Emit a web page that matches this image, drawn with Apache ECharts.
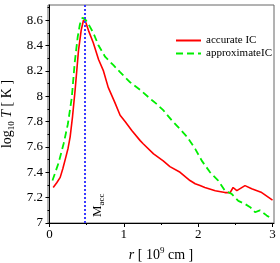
<!DOCTYPE html>
<html><head><meta charset="utf-8">
<script src="https://cdn.jsdelivr.net/npm/echarts@6/dist/echarts.min.js"></script>
<style>html,body{margin:0;padding:0;background:#fff}#c{width:280px;height:263px}</style>
</head><body><div id="c"></div>
<script>
const redX = [0.05,0.10,0.144,0.18,0.22,0.25,0.278,0.31,0.345,0.39,0.426,0.457,0.49,0.524,0.59,0.66,0.726,0.79,0.88,0.95,1.017,1.107,1.22,1.26,1.40,1.53,1.62,1.757,1.89,1.96,2.025,2.09,2.23,2.36,2.43,2.47,2.52,2.63,2.72,2.855,3.0];
const redY = [7.28,7.32,7.36,7.43,7.52,7.59,7.68,7.84,8.05,8.36,8.52,8.60,8.58,8.52,8.42,8.29,8.20,8.07,7.95,7.85,7.80,7.73,7.65,7.625,7.545,7.49,7.445,7.40,7.335,7.31,7.295,7.28,7.255,7.24,7.24,7.28,7.255,7.295,7.27,7.24,7.18];
const greenX = [0.04,0.12,0.19,0.247,0.30,0.34,0.38,0.41,0.445,0.49,0.524,0.59,0.66,0.75,0.86,0.95,1.085,1.22,1.376,1.44,1.53,1.645,1.757,1.85,1.96,2.05,2.16,2.27,2.36,2.45,2.54,2.63,2.70,2.765,2.83,2.92,3.0];
const greenY = [7.335,7.47,7.625,7.78,7.99,8.27,8.47,8.57,8.62,8.60,8.57,8.50,8.40,8.31,8.245,8.19,8.11,8.05,7.97,7.94,7.89,7.81,7.74,7.68,7.585,7.49,7.40,7.335,7.255,7.23,7.175,7.15,7.125,7.085,7.10,7.06,7.03];
const xMajor = [0,1,2,3];
const xMinor = [0.5,1.5,2.5];
const yMajor = [7,7.2,7.4,7.6,7.8,8,8.2,8.4,8.6];
const yMinor = [7.1,7.3,7.5,7.7,7.9,8.1,8.3,8.5,8.7];
const mAcc = 0.48;
const seriesNames = ['accurate IC','approximateIC'];

const F = 'Liberation Serif';
const chart = echarts.init(document.getElementById('c'));
const zip = (a,b)=>a.map((v,i)=>[v,b[i]]);
const xBase = {type:'value', gridIndex:0, min:-0.02, max:3.02, position:'bottom', splitLine:{show:false}};
const yBase = {type:'value', gridIndex:0, min:7, max:8.72, position:'left', splitLine:{show:false}};
chart.setOption({
  animation:false,
  grid:{left:48, right:6, top:5, bottom:40, show:true, borderColor:'#666', borderWidth:1, containLabel:false, outerBoundsMode:'none'},
  legend:{orient:'vertical', left:175, top:35, itemWidth:25, itemHeight:10, itemGap:2, padding:0,
    itemStyle:{opacity:0},
    textStyle:{fontFamily:F, fontSize:11, color:'#000'}, data:seriesNames},
  xAxis:[
    Object.assign({}, xBase, {
      axisLine:{show:true, lineStyle:{color:'#000', width:1}},
      axisTick:{show:true, customValues:xMajor, length:4, lineStyle:{color:'#000'}},
      axisLabel:{show:true, customValues:xMajor, margin:5, fontFamily:F, fontSize:13, color:'#000'},
      name:'{i|r} [ 10{sup|9} cm ]', nameLocation:'middle', nameGap:19,
      nameTextStyle:{fontFamily:F, fontSize:14, color:'#000',
        rich:{i:{fontFamily:F, fontSize:14, fontStyle:'italic', color:'#000'},
              sup:{fontFamily:F, fontSize:9, color:'#000', padding:[0,0,9,0]}}}
    }),
    Object.assign({}, xBase, {
      axisLine:{show:false}, axisLabel:{show:false},
      axisTick:{show:true, customValues:xMinor, length:2, lineStyle:{color:'#000'}}
    })
  ],
  yAxis:[
    Object.assign({}, yBase, {
      axisLine:{show:true, lineStyle:{color:'#000', width:1}},
      axisTick:{show:true, customValues:yMajor, length:4, lineStyle:{color:'#000'}},
      axisLabel:{show:true, customValues:yMajor, margin:5, fontFamily:F, fontSize:13, color:'#000'},
      name:'log{sub|10} {i|T} [ K ]', nameLocation:'middle', nameGap:30, nameRotate:90,
      nameTextStyle:{fontFamily:F, fontSize:14, color:'#000',
        rich:{i:{fontFamily:F, fontSize:14, fontStyle:'italic', color:'#000'},
              sub:{fontFamily:F, fontSize:9, color:'#000', padding:[9,0,0,0]}}}
    }),
    Object.assign({}, yBase, {
      axisLine:{show:false}, axisLabel:{show:false},
      axisTick:{show:true, customValues:yMinor, length:2, lineStyle:{color:'#000'}}
    })
  ],
  series:[
    {name:seriesNames[0], type:'line', xAxisIndex:0, yAxisIndex:0, data:zip(redX,redY), symbol:'none', smooth:false,
      lineStyle:{color:'#ff0000', width:1.6}, itemStyle:{color:'#ff0000'},
      markLine:{silent:true, symbol:['none','none'],
        lineStyle:{color:'#3a3aff', type:'dotted', width:2},
        label:{show:true, position:'insideStartBottom', distance:[6,4], formatter:'{m|M}{s|acc}',
          rich:{m:{fontFamily:F, fontSize:13, color:'#000'}, s:{fontFamily:F, fontSize:9, color:'#000', padding:[8,0,0,0]}}},
        data:[[{coord:[mAcc,7]},{coord:[mAcc,8.72]}]]}
    },
    {name:seriesNames[1], type:'line', xAxisIndex:0, yAxisIndex:0, data:zip(greenX,greenY), symbol:'none', smooth:false,
      lineStyle:{color:'#00ee00', width:1.8, type:[7,4]}, itemStyle:{color:'#00ee00'}}
  ]
});
</script></body></html>
